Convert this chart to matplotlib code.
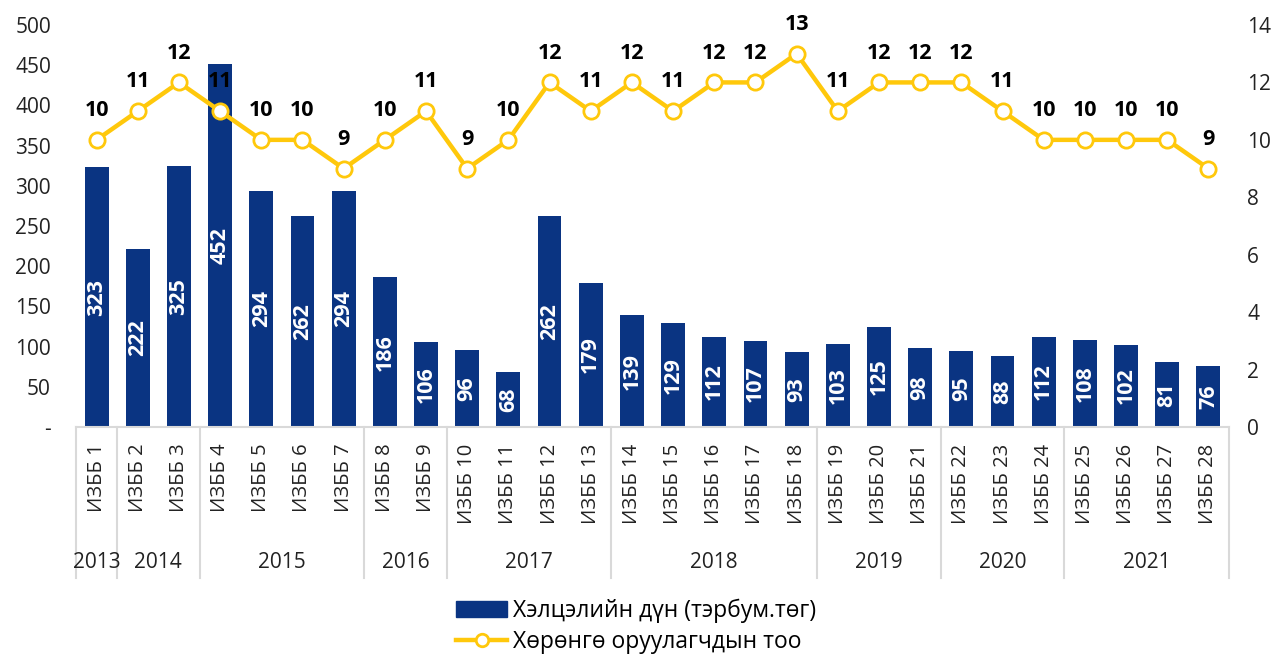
import matplotlib
matplotlib.use("Agg")
import matplotlib.pyplot as plt
import matplotlib.transforms as mtransforms
from matplotlib.lines import Line2D
from matplotlib.patches import Patch

plt.rcParams['font.family'] = ['Open Sans', 'DejaVu Sans']

categories = [f"ИЗББ {i}" for i in range(1, 29)]
deal_values = [323, 222, 325, 452, 294, 262, 294, 186, 106, 96, 68, 262, 179, 139,
               129, 112, 107, 93, 103, 125, 98, 95, 88, 112, 108, 102, 81, 76]
investor_counts = [10, 11, 12, 11, 10, 10, 9, 10, 11, 9, 10, 12, 11, 12,
                   11, 12, 12, 13, 11, 12, 12, 12, 11, 10, 10, 10, 10, 9]
years = ["2013", "2014", "2015", "2016", "2017", "2018", "2019", "2020", "2021"]
year_sizes = [1, 2, 4, 2, 4, 5, 3, 3, 4]

bar_label = "Хэлцэлийн дүн (тэрбум.төг)"
line_label = "Хөрөнгө оруулагчдын тоо"

BAR_C = "#0A3482"
LINE_C = "#FFC80B"

fig = plt.figure(figsize=(12.72, 6.56), dpi=100)
ax = fig.add_axes([76/1272, 1-427/656, (1229-76)/1272, (427-25)/656])
ax2 = ax.twinx()

x = list(range(len(categories)))
bars = ax.bar(x, deal_values, width=0.58, color=BAR_C, zorder=2)
ax.set_xlim(-0.5, len(categories)-0.5)
ax.set_ylim(0, 500)
ax.set_yticks(range(0, 501, 50))
ax.set_yticklabels(["-"] + [str(v) for v in range(50, 501, 50)])
ax.tick_params(axis='y', length=0, pad=18, labelsize=15, colors='#222222')
ax.set_xticks(x)
ax.set_xticklabels(categories, rotation=90, va='top', ha='center', fontsize=14.5, color='#222222')
ax.tick_params(axis='x', length=0, pad=12)

for s in ['top', 'left', 'right']:
    ax.spines[s].set_visible(False)
    ax2.spines[s].set_visible(False)
ax.spines['bottom'].set_color('#d9d9d9')
ax.spines['bottom'].set_linewidth(1.5)
ax2.spines['bottom'].set_visible(False)

for xi, v in zip(x, deal_values):
    ax.text(xi, v/2, str(v), rotation=90, ha='center', va='center', color='white',
            fontsize=15.5, fontweight='bold', zorder=3)

ax2.plot(x, investor_counts, color=LINE_C, lw=3.2, marker='o', markersize=11,
         markerfacecolor='white', markeredgecolor=LINE_C, markeredgewidth=2, zorder=4)
ax2.set_ylim(0, 14)
ax2.set_yticks(range(0, 15, 2))
ax2.tick_params(axis='y', length=0, pad=13, labelsize=15, colors='#222222')
for xi, v in zip(x, investor_counts):
    ax2.annotate(str(v), (xi, v), xytext=(0, 21), textcoords='offset points',
                 ha='center', va='center', fontsize=15.5, fontweight='bold', color='black')

# multi-level category axis
trans = mtransforms.blended_transform_factory(ax.transData, ax.transAxes)
y_top = 0
y_bot = -(578-427)/402
y_year = -(563-427)/402
start = 0
bounds = [start]
for n in year_sizes:
    start += n
    bounds.append(start)
for b in bounds:
    ax.plot([b-0.5, b-0.5], [y_top, y_bot], color='#d9d9d9', lw=1.5,
            transform=trans, clip_on=False)
for i, yr in enumerate(years):
    cx = (bounds[i] + bounds[i+1] - 1) / 2
    ax.text(cx, y_year, yr, transform=trans, ha='center', va='center',
            fontsize=15, color='#222222')

handles = [Patch(facecolor=BAR_C, edgecolor=BAR_C),
           Line2D([0], [0], color=LINE_C, lw=3.2, marker='o', markersize=9,
                  markerfacecolor='white', markeredgecolor=LINE_C, markeredgewidth=2)]
fig.legend(handles, [bar_label, line_label], loc='center', bbox_to_anchor=(0.5, 1-626/656),
           frameon=False, fontsize=16.5, handlelength=2.2, labelspacing=0.3,
           handletextpad=0.25)

fig.savefig("out.png", dpi=100)
